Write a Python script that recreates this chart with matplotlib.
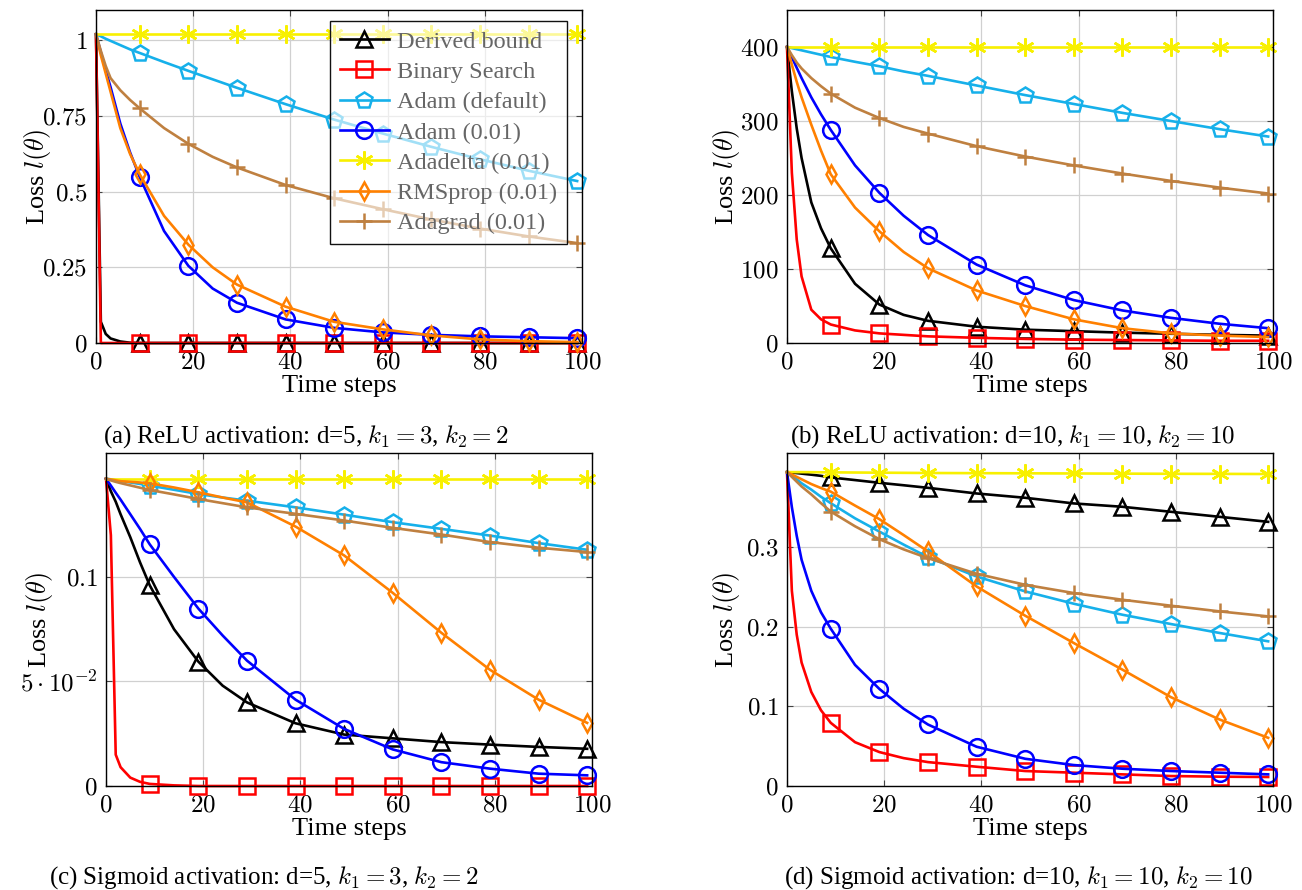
import matplotlib.pyplot as plt
import matplotlib.ticker as ticker

plt.rcParams["font.family"] = ["Liberation Serif", "DejaVu Serif"]
plt.rcParams["mathtext.fontset"] = "cm"

STEPS = [0, 1, 2, 3, 5, 7, 9, 14, 19, 24, 29, 39, 49, 59, 69, 79, 89, 99]

LABELS = ["Derived bound", "Binary Search", "Adam (default)", "Adam (0.01)",
          "Adadelta (0.01)", "RMSprop (0.01)", "Adagrad (0.01)"]
COLORS = ["#000000", "#ff0000", "#16b0ea", "#0000ff", "#f8f000", "#ff8000", "#bf8040"]
MARKERS = ["^", "s", "p", "o", (6, 2, 0), "d", "+"]
MSIZES = [11, 11.5, 12, 12, 13, 8.7, 12]

# (a) ReLU, d=5
A_DERIVED = [1.02, 0.07, 0.03, 0.015, 0.005, 0.001, 0, 0, 0, 0, 0, 0, 0, 0, 0, 0, 0, 0]
A_BINARY = [1.02, 0, 0, 0, 0, 0, 0, 0, 0, 0, 0, 0, 0, 0, 0, 0, 0, 0]
A_ADAM_DEF = [1.02, 1.013, 1.005, 0.998, 0.984, 0.97, 0.958, 0.928, 0.899, 0.871, 0.843,
              0.789, 0.738, 0.692, 0.648, 0.607, 0.569, 0.535]
A_ADAM = [1.02, 0.96, 0.90, 0.845, 0.725, 0.63, 0.548, 0.37, 0.255, 0.18, 0.133,
          0.078, 0.05, 0.035, 0.027, 0.022, 0.019, 0.016]
A_ADADELTA = [1.02] * 18
A_RMSPROP = [1.02, 0.95, 0.89, 0.83, 0.71, 0.625, 0.557, 0.42, 0.325, 0.25, 0.193,
             0.12, 0.07, 0.045, 0.025, 0.012, 0.006, 0.003]
A_ADAGRAD = [1.02, 0.965, 0.915, 0.875, 0.835, 0.803, 0.775, 0.71, 0.658, 0.615, 0.58,
             0.522, 0.478, 0.442, 0.408, 0.378, 0.352, 0.33]

# (b) ReLU, d=10
B_DERIVED = [400, 340, 290, 250, 190, 155, 128, 80, 52, 38, 30, 22, 18, 16, 14, 12.5, 11, 10]
B_BINARY = [400, 230, 140, 90, 45, 32, 25, 17, 13, 11, 9, 7, 5.5, 4.5, 4, 3.5, 3, 3]
B_ADAM_DEF = [400, 398.5, 397, 395.5, 392.5, 389.5, 386.5, 380, 374, 367, 361,
              348, 335, 323, 311, 300, 289, 279]
B_ADAM = [400, 386, 372, 358, 332, 309, 288, 240, 203, 172, 146, 106, 78, 58, 44, 34, 26, 20]
B_ADADELTA = [400] * 18
B_RMSPROP = [400, 376, 353, 332, 295, 260, 228, 183, 151, 123, 101, 71, 50, 32, 20, 13, 10, 8]
B_ADAGRAD = [400, 389, 379, 371, 358, 347, 337, 318, 304, 292, 283, 266, 252, 240, 229, 219, 210, 202]

# (c) Sigmoid, d=5
C_DERIVED = [0.147, 0.141, 0.136, 0.13, 0.119, 0.107, 0.096, 0.075, 0.0595, 0.048, 0.040,
             0.030, 0.0246, 0.0228, 0.021, 0.0198, 0.0187, 0.0178]
C_BINARY = [0.147, 0.12, 0.015, 0.009, 0.004, 0.002, 0.001, 0.0003, 0, 0, 0, 0, 0, 0, 0, 0, 0, 0]
C_ADAM_DEF = [0.147, 0.1467, 0.1464, 0.146, 0.1452, 0.1445, 0.1437, 0.1417, 0.1397, 0.138,
              0.1365, 0.1333, 0.1298, 0.1262, 0.123, 0.1198, 0.1162, 0.113]
C_ADAM = [0.147, 0.1437, 0.1403, 0.137, 0.130, 0.123, 0.1156, 0.1, 0.0849, 0.072, 0.060,
          0.0413, 0.0273, 0.0175, 0.0114, 0.0083, 0.0059, 0.0051]
C_ADADELTA = [0.147] * 18
C_RMSPROP = [0.147, 0.1466, 0.1462, 0.1458, 0.1455, 0.1452, 0.1448, 0.1428, 0.1405, 0.138,
             0.1357, 0.1241, 0.1103, 0.0924, 0.0733, 0.0556, 0.0413, 0.0302]
C_ADAGRAD = [0.147, 0.1462, 0.1455, 0.1449, 0.1438, 0.1427, 0.1416, 0.1395, 0.1373, 0.1353,
             0.1333, 0.1302, 0.127, 0.1235, 0.1203, 0.1167, 0.114, 0.1119]

# (d) Sigmoid, d=10
D_DERIVED = [0.394, 0.3934, 0.3928, 0.3921, 0.3908, 0.3893, 0.3873, 0.384, 0.3806, 0.3775,
             0.3743, 0.3672, 0.3618, 0.3547, 0.3505, 0.3442, 0.3379, 0.3316]
D_BINARY = [0.394, 0.245, 0.19, 0.155, 0.118, 0.095, 0.0793, 0.055, 0.0426, 0.035, 0.03,
            0.0242, 0.0188, 0.0167, 0.0146, 0.0125, 0.0117, 0.0113]
D_ADAM_DEF = [0.394, 0.389, 0.385, 0.38, 0.372, 0.363, 0.355, 0.336, 0.3194, 0.303, 0.2873,
              0.263, 0.2443, 0.2288, 0.215, 0.2033, 0.1921, 0.1816]
D_ADAM = [0.394, 0.35, 0.314, 0.284, 0.245, 0.218, 0.1975, 0.152, 0.1219, 0.097, 0.0772,
          0.0493, 0.0342, 0.0263, 0.0217, 0.0188, 0.0167, 0.0146]
D_ADADELTA = [0.394, 0.394, 0.394, 0.394, 0.3939, 0.3938, 0.3937, 0.3935, 0.3933, 0.3931,
              0.3929, 0.3927, 0.3925, 0.3923, 0.3921, 0.3919, 0.3918, 0.3916]
D_RMSPROP = [0.394, 0.391, 0.388, 0.385, 0.379, 0.374, 0.3695, 0.352, 0.335, 0.315, 0.2944,
             0.2505, 0.2138, 0.1795, 0.1461, 0.1115, 0.0835, 0.0605]
D_ADAGRAD = [0.394, 0.388, 0.382, 0.376, 0.366, 0.355, 0.3445, 0.326, 0.3098, 0.297, 0.286,
             0.2664, 0.2526, 0.2422, 0.2338, 0.2263, 0.2192, 0.2129]

X_TICKS = [0, 20, 40, 60, 80, 100]
A_YTICKS, A_YLABELS = [0, 0.25, 0.5, 0.75, 1], ["0", "0.25", "0.5", "0.75", "1"]
B_YTICKS, B_YLABELS = [0, 100, 200, 300, 400], ["0", "100", "200", "300", "400"]
C_YTICKS, C_YLABELS = [0, 0.05, 0.1], ["0", r"5\cdot10^{-2}", "0.1"]
D_YTICKS, D_YLABELS = [0, 0.1, 0.2, 0.3], ["0", "0.1", "0.2", "0.3"]

CAPTIONS = [r"(a) ReLU activation: d=5, $k_1 = 3$, $k_2 = 2$",
            r"(b) ReLU activation: d=10, $k_1 = 10$, $k_2 = 10$",
            r"(c) Sigmoid activation: d=5, $k_1 = 3$, $k_2 = 2$",
            r"(d) Sigmoid activation: d=10, $k_1 = 10$, $k_2 = 10$"]

panels = [
    ([A_DERIVED, A_BINARY, A_ADAM_DEF, A_ADAM, A_ADADELTA, A_RMSPROP, A_ADAGRAD],
     1.1, A_YTICKS, A_YLABELS, [96, 10], -0.12),
    ([B_DERIVED, B_BINARY, B_ADAM_DEF, B_ADAM, B_ADADELTA, B_RMSPROP, B_ADAGRAD],
     450, B_YTICKS, B_YLABELS, [787, 10], -0.124),
    ([C_DERIVED, C_BINARY, C_ADAM_DEF, C_ADAM, C_ADADELTA, C_RMSPROP, C_ADAGRAD],
     0.1593, C_YTICKS, C_YLABELS, [106, 453], -0.136),
    ([D_DERIVED, D_BINARY, D_ADAM_DEF, D_ADAM, D_ADADELTA, D_RMSPROP, D_ADAGRAD],
     0.418, D_YTICKS, D_YLABELS, [787, 453], -0.124),
]
caption_pos = [(306, 437), (1013, 437), (264, 878), (1018, 878)]

W, H = 1302, 890
fig = plt.figure(figsize=(W / 100, H / 100), dpi=100)
mark_idx = [i for i, s in enumerate(STEPS) if s % 10 == 9]

for k, (series, ymax, yt, ytl, (px, py), ylab_x) in enumerate(panels):
    ax = fig.add_axes([px / W, 1 - (py + 333) / H, 486 / W, 333 / H])
    for vals, lab, col, mk, ms in zip(series, LABELS, COLORS, MARKERS, MSIZES):
        ax.plot(STEPS, vals, color=col, lw=1.9, marker=mk, ms=ms, mew=1.8,
                mfc="none", mec=col, markevery=mark_idx, label=lab, clip_on=False)
    ax.set_xlim(0, 100)
    ax.set_ylim(0, ymax)
    ax.xaxis.set_major_locator(ticker.FixedLocator(X_TICKS))
    ax.xaxis.set_major_formatter(ticker.FixedFormatter([f"${t}$" for t in X_TICKS]))
    ax.yaxis.set_major_locator(ticker.FixedLocator(yt))
    ax.yaxis.set_major_formatter(ticker.FixedFormatter([f"${t}$" for t in ytl]))
    ax.tick_params(direction="in", top=True, right=True, length=4, width=0.8,
                   color="#444444", labelsize=18, pad=6)
    ax.grid(True, color="#d0d0d0", lw=0.9)
    ax.set_axisbelow(True)
    for sp in ax.spines.values():
        sp.set_linewidth(1.0)
    ax.set_xlabel("Time steps", fontsize=19, va="center")
    ax.xaxis.set_label_coords(0.5, -0.13)
    ax.set_ylabel(r"Loss $l(\theta)$", fontsize=19, va="center")
    ax.yaxis.set_label_coords(ylab_x, 0.5)
    cx, cy = caption_pos[k]
    fig.text(cx / W, 1 - cy / H, CAPTIONS[k], fontsize=18, ha="center", va="center")

    if k == 0:
        leg = ax.legend(loc="upper right", bbox_to_anchor=(0.969, 0.967), borderaxespad=0,
                        fontsize=17.5, labelcolor="#666666", handlelength=2.0,
                        handletextpad=0.35, borderpad=0.4, labelspacing=0.34,
                        fancybox=False)
        frame = leg.get_frame()
        frame.set_alpha(None)
        frame.set_facecolor((1, 1, 1, 0.6))
        frame.set_edgecolor("#111111")
        frame.set_linewidth(1.0)

fig.savefig("out.png", dpi=100, facecolor="white")
